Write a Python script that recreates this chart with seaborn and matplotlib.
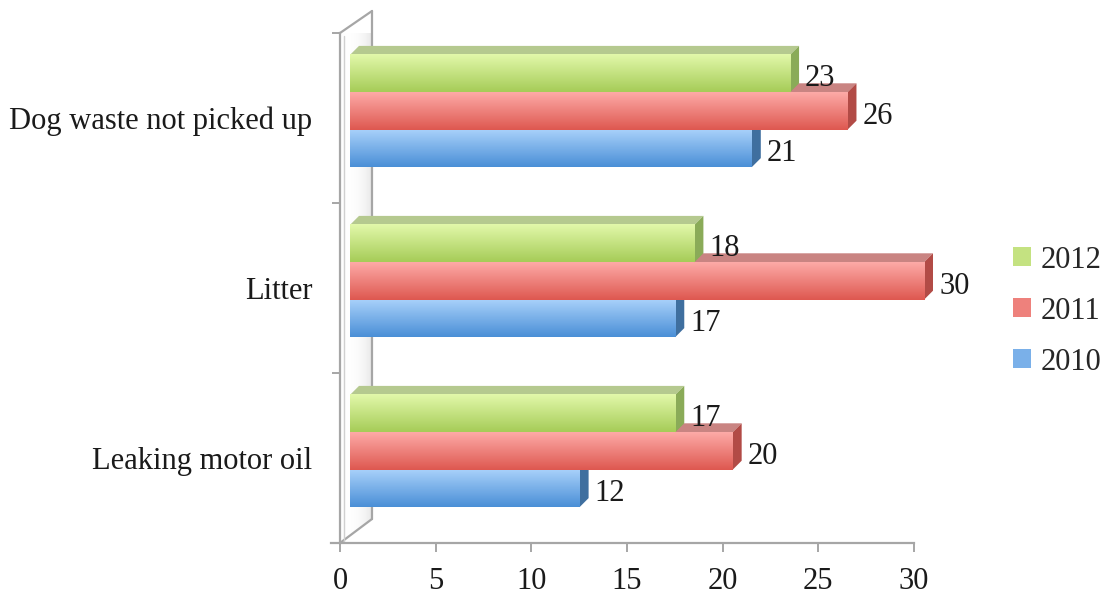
import numpy as np
import pandas as pd
import matplotlib
matplotlib.use("Agg")
import matplotlib.pyplot as plt
import seaborn as sns
from matplotlib.patches import Polygon, Rectangle
from matplotlib.lines import Line2D
from matplotlib.transforms import IdentityTransform, ScaledTranslation
from matplotlib.colors import to_rgb

# ---------------- data ----------------
categories = ["Dog waste not picked up", "Litter", "Leaking motor oil"]
years = ["2012", "2011", "2010"]
values_2012 = [23, 18, 17]
values_2011 = [26, 30, 20]
values_2010 = [21, 17, 12]
x_ticks = [0, 5, 10, 15, 20, 25, 30]

df = pd.DataFrame({
    "category": categories * 3,
    "year": ["2012"] * 3 + ["2011"] * 3 + ["2010"] * 3,
    "value": values_2012 + values_2011 + values_2010,
})

# ---------------- style ----------------
sns.set_theme(style="white")
plt.rcParams["font.family"] = ["Liberation Serif", "DejaVu Serif"]
FS = 22
TXT = "#1a1a1a"
GRAY = "#a6a6a6"

front_top = {"2012": "#e2f8aa", "2011": "#fdaaa7", "2010": "#a9d1fb"}
front_bot = {"2012": "#a6cc58", "2011": "#de5850", "2010": "#4a8fd6"}
top_face = {"2012": "#b5c98f", "2011": "#c98482", "2010": "#7f9fc4"}
side_face = {"2012": "#8aab58", "2011": "#b24b46", "2010": "#3f6f9f"}
mid = {k: tuple((np.array(to_rgb(front_top[k])) + np.array(to_rgb(front_bot[k]))) / 2) for k in years}

W, H = 1105, 606
fig = plt.figure(figsize=(W / 100, H / 100), dpi=100)
ax = fig.add_axes([340 / W, 1 - 543 / H, (914 - 340) / W, (543 - 33) / H])

sns.barplot(data=df, y="category", x="value", hue="year", hue_order=years,
            order=categories, orient="h", palette=mid, width=0.66,
            saturation=1, ax=ax, legend=True)
ax.set_xlim(0, 30)
ax.set_ylim(2.5, -0.5)
ax.autoscale(False)

# ---------------- back wall ----------------
def disp(xpx, ypx):
    return (xpx, H - ypx)

wall = [disp(340, 33), disp(372, 11), disp(372, 519), disp(340, 543)]
wall_poly = Polygon(wall, closed=True, transform=IdentityTransform(),
                    facecolor="white", edgecolor="none", zorder=0.5, clip_on=False)
ax.add_patch(wall_poly)
g = np.linspace(0, 1, 64)
shade = np.ones((2, 64, 3))
for i in range(3):
    shade[:, :, i] = 1 - 0.10 * g ** 3
im = ax.imshow(shade, extent=(0, 32 / 19.13, 2.5, -0.5), aspect="auto",
               zorder=0.6, interpolation="bilinear")
im.set_clip_path(wall_poly)
for (a, b) in [(wall[0], wall[1]), (wall[1], wall[2]), (wall[3], wall[2])]:
    ax.add_line(Line2D([a[0], b[0]], [a[1], b[1]], transform=IdentityTransform(),
                       color=GRAY, lw=1.6, clip_on=False, zorder=0.7))
ax.add_line(Line2D([344, 344], [H - 36, H - 541], transform=IdentityTransform(),
                   color="#d0d0d0", lw=1.0, clip_on=False, zorder=0.7))

# ---------------- 3D bars ----------------
DX, DY, D = 10, 7, 9
offt = ax.transData + ScaledTranslation(DX / 100, DY / 100, fig.dpi_scale_trans)
order_draw = ["2010", "2011", "2012"]
z = 2.0
for yr in order_draw:
    cont = ax.containers[years.index(yr)]
    for bar in cont:
        x0, y0, w, h = bar.get_x(), bar.get_y(), bar.get_width(), bar.get_height()
        (L, B1), (R, B2) = offt.transform([[x0, y0], [x0 + w, y0 + h]])
        top, bot = max(B1, B2), min(B1, B2)
        ax.add_patch(Polygon([(L, top), (R, top), (R + D, top + D), (L + D, top + D)],
                             closed=True, transform=IdentityTransform(), facecolor=top_face[yr],
                             edgecolor="none", clip_on=False, zorder=z))
        ax.add_patch(Polygon([(R, top), (R + D, top + D), (R + D, bot + D), (R, bot)],
                             closed=True, transform=IdentityTransform(), facecolor=side_face[yr],
                             edgecolor="none", clip_on=False, zorder=z))
        bar.set_transform(offt)
        bar.set_clip_on(False)
        bar.set_zorder(z + 0.1)
        bar.set_edgecolor("none")
        grad = np.zeros((64, 1, 3))
        t = np.linspace(0, 1, 64)[:, None]
        grad[:, 0, :] = (1 - t) * np.array(to_rgb(front_top[yr])) + t * np.array(to_rgb(front_bot[yr]))
        ax.imshow(grad, extent=(x0, x0 + w, y0 + h, y0), transform=offt, aspect="auto",
                  interpolation="bilinear", zorder=z + 0.2, clip_on=False)
        ax.annotate(f"{int(round(w))}", xy=(x0 + w, y0 + h / 2), xycoords=offt,
                    xytext=(15 * 0.72, -5 * 0.72), textcoords="offset points",
                    ha="left", va="center", fontsize=FS, color=TXT, zorder=5)
    z += 0.5

ax.set_xlim(0, 30)
ax.set_ylim(2.5, -0.5)

# ---------------- axes ----------------
for s in ["top", "right"]:
    ax.spines[s].set_visible(False)
ax.spines["left"].set_color(GRAY)
ax.spines["left"].set_linewidth(1.6)
ax.spines["bottom"].set_color(GRAY)
ax.spines["bottom"].set_linewidth(1.6)
ax.spines["bottom"].set_bounds(-9 / 19.13, 30)

ax.set_xticks(x_ticks)
ax.set_xticklabels([str(v) for v in x_ticks])
ax.tick_params(axis="x", which="major", direction="out", length=6.5, width=1.4,
               color=GRAY, pad=11, labelsize=FS, labelcolor=TXT, bottom=True)
ax.set_yticks(range(len(categories)))
ax.set_yticklabels(categories)
ax.tick_params(axis="y", which="major", length=0, pad=20, labelsize=FS, labelcolor=TXT, left=True)
ax.set_yticks([-0.5, 0.5, 1.5, 2.5], minor=True)
ax.tick_params(axis="y", which="minor", direction="out", length=6, width=1.4, color=GRAY, left=True)
ax.set_xlabel("")
ax.set_ylabel("")
ax.grid(False)

# ---------------- legend ----------------
handles = [Rectangle((0, 0), 1, 1, facecolor=mid[y], edgecolor="none") for y in years]
ax.legend(handles, years, loc="center left", bbox_to_anchor=(1013 / W, 1 - 311 / H),
          bbox_transform=fig.transFigure, frameon=False, fontsize=FS,
          handlelength=0.6, handleheight=0.6, handletextpad=0.3,
          labelspacing=0.72, borderpad=0, borderaxespad=0)

fig.savefig("out.png", dpi=100)
